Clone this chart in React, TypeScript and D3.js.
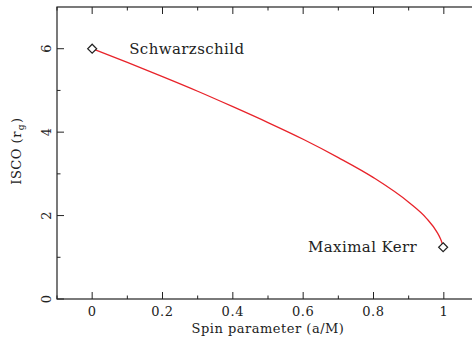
import * as d3 from 'd3';

// Values
const spin = [0, 0.1, 0.2, 0.3, 0.4, 0.5, 0.6, 0.7, 0.8, 0.9, 0.95, 0.98, 0.99, 0.995, 0.998];
const isco = [6.0, 5.67, 5.33, 4.98, 4.61, 4.23, 3.83, 3.39, 2.91, 2.32, 1.94, 1.61, 1.45, 1.34, 1.24];

const markers = [
  { label: 'Schwarzschild', a: 0, r: 6.0 },
  { label: 'Maximal Kerr', a: 0.998, r: 1.24 },
];

const xMajor = [0, 0.2, 0.4, 0.6, 0.8, 1];
const xMinor = [-0.1, 0.1, 0.3, 0.5, 0.7, 0.9, 1.1];
const yMajor = [0, 2, 4, 6];
const yMinor = [1, 3, 5];

const W = 472;
const H = 339;
const left = 57;
const right = 479;
const top = 7;
const bottom = 299;
const font = '"DejaVu Serif", serif';

const App = () => {
  const x = d3.scaleLinear().domain([-0.1, 1.1]).range([left, right]);
  const y = d3.scaleLinear().domain([0, 7]).range([bottom, top]);

  const line = d3
    .line<number>()
    .x((_, i) => x(spin[i]))
    .y((d) => y(d))
    .curve(d3.curveMonotoneX);

  const major = 7;
  const minor = 3.5;
  const diamond = (cx: number, cy: number) =>
    `M${cx},${cy - 4.5}L${cx + 4.5},${cy}L${cx},${cy + 4.5}L${cx - 4.5},${cy}Z`;

  return (
    <svg
      width={W}
      height={H}
      style={{ position: 'absolute', left: 0, top: 0, background: 'white' }}
    >
      <rect x={0} y={0} width={W} height={H} fill="white" />
      {/* frame */}
      <rect
        x={left}
        y={top}
        width={right - left}
        height={bottom - top}
        fill="none"
        stroke="#222"
        strokeWidth={1.2}
      />
      {/* x ticks, bottom and top */}
      {xMajor.map((t) => (
        <g key={'xm' + t}>
          <line x1={x(t)} x2={x(t)} y1={bottom} y2={bottom - major} stroke="#222" />
          <line x1={x(t)} x2={x(t)} y1={top} y2={top + major} stroke="#222" />
          <text
            x={x(t)}
            y={316}
            textAnchor="middle"
            fontFamily={font}
            fontSize={13}
            letterSpacing={0.6}
            fill="#222"
          >
            {t}
          </text>
        </g>
      ))}
      {xMinor.map((t) => (
        <g key={'xn' + t}>
          <line x1={x(t)} x2={x(t)} y1={bottom} y2={bottom - minor} stroke="#222" />
          <line x1={x(t)} x2={x(t)} y1={top} y2={top + minor} stroke="#222" />
        </g>
      ))}
      {/* y ticks, left and right */}
      {yMajor.map((t) => (
        <g key={'ym' + t}>
          <line x1={left} x2={left + major} y1={y(t)} y2={y(t)} stroke="#222" />
          <line x1={right} x2={right - major} y1={y(t)} y2={y(t)} stroke="#222" />
          <text
            transform={`translate(${51},${y(t)}) rotate(-90)`}
            textAnchor="middle"
            fontFamily={font}
            fontSize={13}
            fill="#222"
          >
            {t}
          </text>
        </g>
      ))}
      {yMinor.map((t) => (
        <g key={'yn' + t}>
          <line x1={left} x2={left + minor} y1={y(t)} y2={y(t)} stroke="#222" />
          <line x1={right} x2={right - minor} y1={y(t)} y2={y(t)} stroke="#222" />
        </g>
      ))}
      {/* axis titles */}
      <text
        x={(left + right) / 2}
        y={333}
        textAnchor="middle"
        fontFamily={font}
        fontSize={13}
        letterSpacing={0.5}
        fill="#222"
      >
        Spin parameter (a/M)
      </text>
      <text
        transform={`translate(${21},${(top + bottom) / 2 - 2}) rotate(-90)`}
        textAnchor="middle"
        fontFamily={font}
        fontSize={13}
        letterSpacing={0.5}
        fill="#222"
      >
        ISCO (r<tspan fontSize={9} dx={1} dy={3}>g</tspan>
        <tspan dx={1} dy={-3}>)</tspan>
      </text>
      {/* curve */}
      <path d={line(isco) ?? ''} fill="none" stroke="#e8232a" strokeWidth={1.3} />
      {/* markers and labels */}
      {markers.map((m, i) => (
        <g key={m.label}>
          <path d={diamond(x(m.a), y(m.r))} fill="white" stroke="#222" strokeWidth={1.2} />
          <text
            x={i === 0 ? x(m.a) + 37 : x(m.a) - 26}
            y={y(m.r) + 5}
            textAnchor={i === 0 ? 'start' : 'end'}
            fontFamily={font}
            fontSize={15}
            letterSpacing={0.4}
            fill="#222"
          >
            {m.label}
          </text>
        </g>
      ))}
    </svg>
  );
};

export default App;
